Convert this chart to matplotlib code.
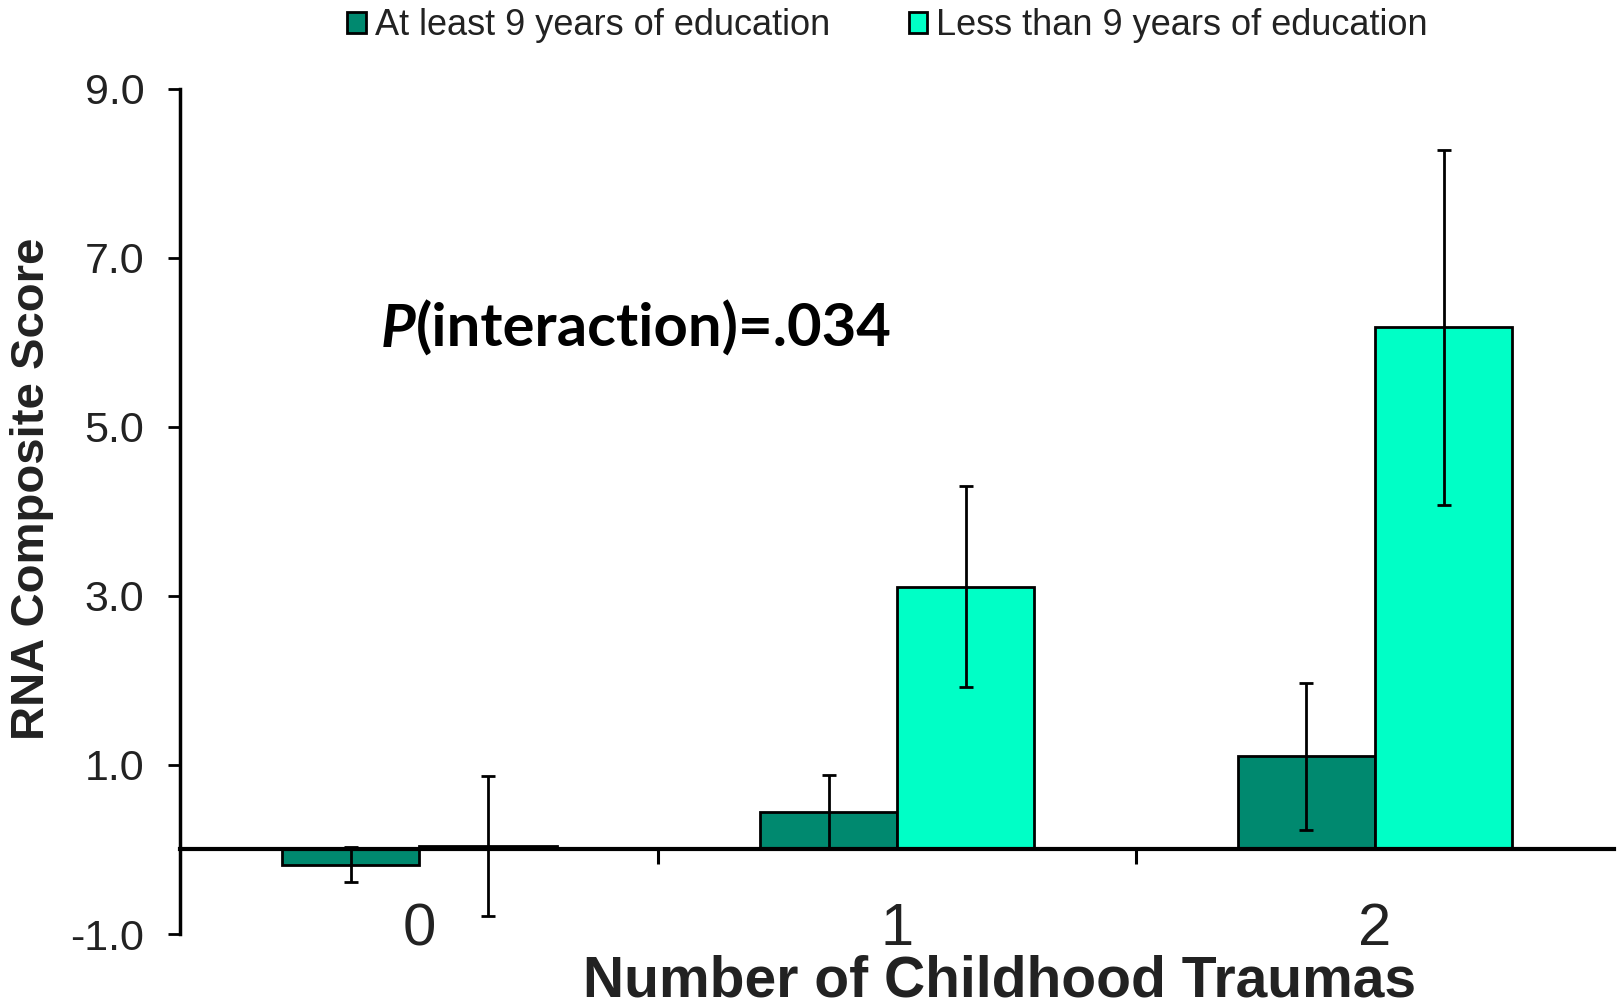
import matplotlib.pyplot as plt
import numpy as np

# values
traumas = ['0', '1', '2']
series_names = ['At least 9 years of education', 'Less than 9 years of education']
high_edu = [-0.18, 0.44, 1.10]
high_edu_err = [0.21, 0.44, 0.87]
low_edu = [0.04, 3.11, 6.18]
low_edu_err = [0.83, 1.19, 2.10]
yticks = [-1.0, 1.0, 3.0, 5.0, 7.0, 9.0]

dark = '#00896F'
light = '#00FFC6'
sans = ['Liberation Sans', 'DejaVu Sans']

fig = plt.figure(figsize=(16.17, 10.08), dpi=100)
ax = fig.add_axes([0.1116, 0.0734, 0.8865, 0.8386])

x = np.arange(len(traumas))
w = 0.287
err_kw = dict(elinewidth=2, capsize=5, capthick=2, ecolor='black')
b1 = ax.bar(x - w / 2, high_edu, w, yerr=high_edu_err, color=dark,
            edgecolor='black', linewidth=2, error_kw=err_kw, label=series_names[0], zorder=2)
b2 = ax.bar(x + w / 2, low_edu, w, yerr=low_edu_err, color=light,
            edgecolor='black', linewidth=2, error_kw=err_kw, label=series_names[1], zorder=2)

ax.set_xlim(-0.5, 2.5)
ax.set_ylim(-1.0, 9.0)

for s in ['top', 'right']:
    ax.spines[s].set_visible(False)
ax.spines['bottom'].set_position(('data', 0))
ax.spines['bottom'].set_linewidth(3)
ax.spines['bottom'].set_zorder(3)
ax.spines['left'].set_linewidth(2.5)

ax.set_yticks(yticks)
ax.set_yticklabels([f'{v:.1f}' for v in yticks], family=sans, fontsize=31, color='#222222')
ax.tick_params(axis='y', direction='out', length=9, width=2, pad=17)

ax.set_xticks(x)
ax.set_xticklabels(traumas, family=sans, fontsize=43, color='#222222')
ax.set_xticks([0.5, 1.5], minor=True)
ax.tick_params(axis='x', which='major', length=0, pad=38)
ax.tick_params(axis='x', which='minor', direction='out', length=11, width=2.2)

fig.text(0.618, 0.026, 'Number of Childhood Traumas', ha='center', va='center',
         fontsize=41, fontweight='bold', family=sans, color='#222222')
fig.text(0.02, 0.515, 'RNA Composite Score', ha='center', va='center', rotation=90,
         fontsize=34, fontweight='bold', family=sans, color='#222222')

p = ax.text(-0.08, 5.95, 'P', fontsize=43, fontweight='bold', fontstyle='italic',
            family=['Lato', 'DejaVu Sans'], va='baseline')
ax.annotate('(interaction)=.034', xy=(1, 0), xycoords=p, va='bottom',
            fontsize=43, fontweight='bold', family=['Lato', 'DejaVu Sans'])

fig.legend(handles=[b1, b2], loc='upper center', bbox_to_anchor=(0.549, 1.024), ncol=2,
           frameon=False, prop={'family': sans, 'size': 26}, handlelength=0.5,
           handleheight=0.5, handletextpad=0.25, columnspacing=2.2, labelcolor='#222222')

fig.savefig('out.png', dpi=100)
